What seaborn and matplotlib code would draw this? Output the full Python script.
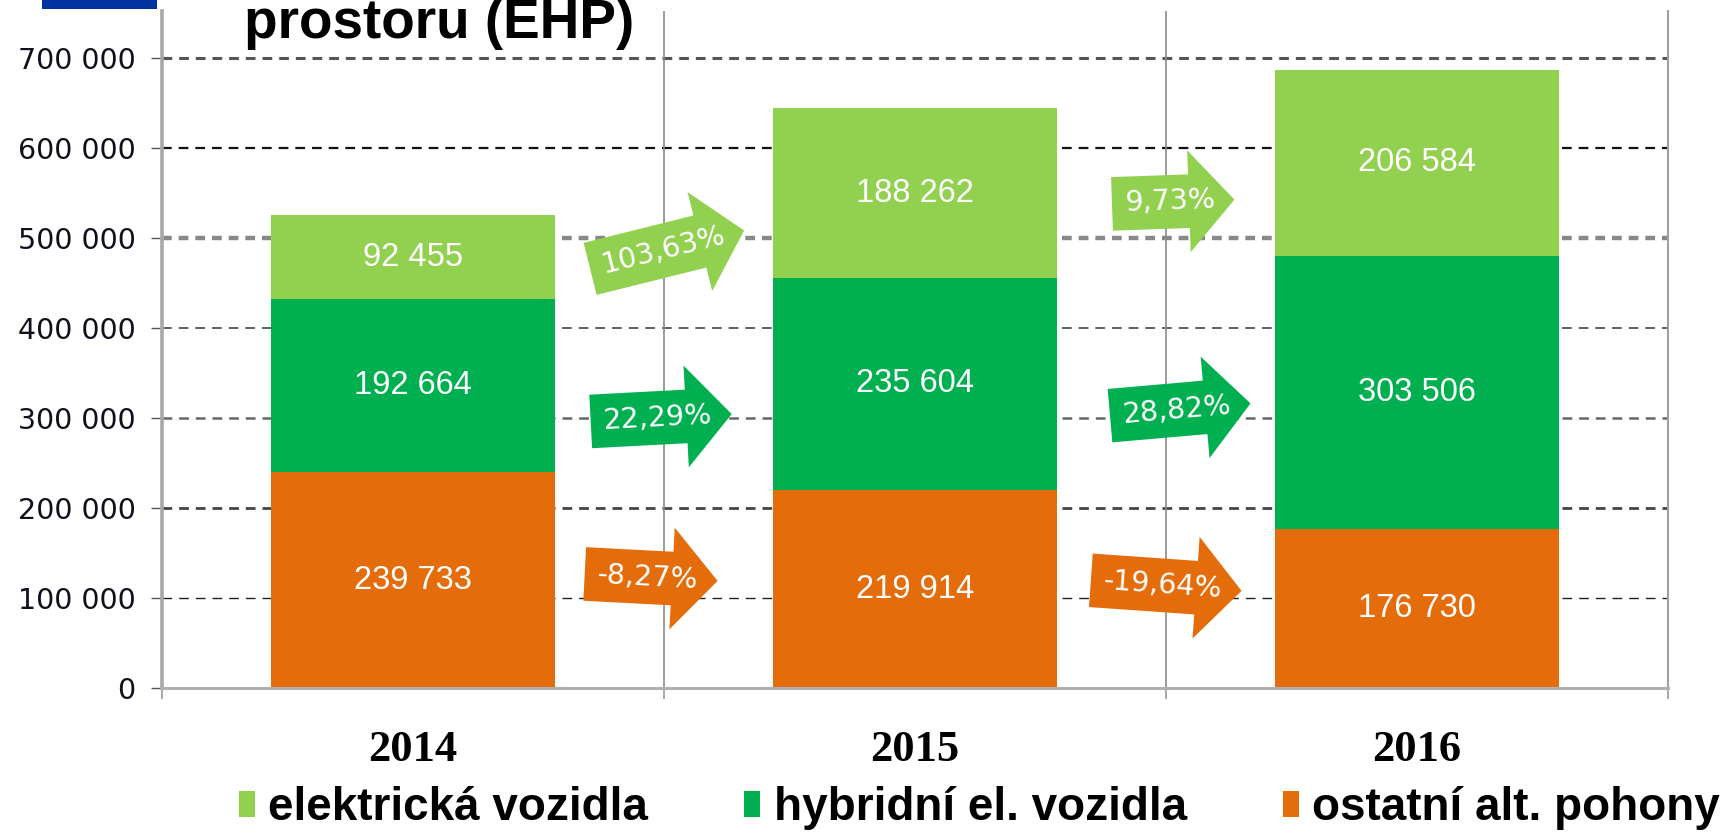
import numpy as np
import pandas as pd
import matplotlib
matplotlib.use("Agg")
import matplotlib.pyplot as plt
import seaborn as sns
from matplotlib.patches import Patch, Rectangle
from matplotlib.path import Path
from matplotlib.ticker import FuncFormatter, FixedLocator

# ---------------- data ----------------
years = ["2014", "2015", "2016"]
series_names = ["elektrická vozidla", "hybridní el. vozidla", "ostatní alt. pohony"]
ostatni = [239733, 219914, 176730]
hybridni = [192664, 235604, 303506]
elektricka = [92455, 188262, 206584]
growth_elektricka = ["103,63%", "9,73%"]
growth_hybridni = ["22,29%", "28,82%"]
growth_ostatni = ["-8,27%", "-19,64%"]
yticks = [0, 100000, 200000, 300000, 400000, 500000, 600000, 700000]
title_text = "prostoru (EHP)"

colors = {
    "elektrická vozidla": "#92D050",
    "hybridní el. vozidla": "#00B050",
    "ostatní alt. pohony": "#E46C0A",
}

# ---------------- style ----------------
sns.set_theme(style="white")
plt.rcParams["font.family"] = ["DejaVu Sans"]
plt.rcParams["lines.scale_dashes"] = False

W, H = 1721, 835
fig = plt.figure(figsize=(W / 100, H / 100), dpi=100)
ax = fig.add_axes([162 / W, 147 / H, (1668 - 162) / W, (824 - 147) / H])

df = pd.DataFrame({"year": years, "ostatni": ostatni,
                   "hybridni": hybridni, "elektricka": elektricka})
df["c1"] = df["ostatni"]
df["c2"] = df["c1"] + df["hybridni"]
df["c3"] = df["c2"] + df["elektricka"]

for col, name in [("c3", series_names[0]), ("c2", series_names[1]), ("c1", series_names[2])]:
    sns.barplot(data=df, x="year", y=col, color=colors[name], width=0.565,
                saturation=1, errorbar=None, ax=ax, zorder=2, edgecolor="none",
                linewidth=0)

ax.set_xlim(-0.5, 2.5)
ax.set_ylim(0, 752000)
ax.set_xlabel("")
ax.set_ylabel("")

# value labels
def fmt(v):
    return f"{int(v):,}".replace(",", " ")

for i in range(len(years)):
    segs = [(0, df["c1"][i]), (df["c1"][i], df["c2"][i]), (df["c2"][i], df["c3"][i])]
    vals = [ostatni[i], hybridni[i], elektricka[i]]
    for (b, t), v in zip(segs, vals):
        ax.text(i, (b + t) / 2, fmt(v), ha="center", va="center", color="white",
                fontsize=23.5, family="Liberation Sans", zorder=4)

# y axis
ax.yaxis.set_major_locator(FixedLocator(yticks))
ax.yaxis.set_major_formatter(FuncFormatter(lambda v, p: fmt(v)))
ax.tick_params(axis="y", length=8, width=1, color="#555555", pad=11,
               labelsize=20.5, labelcolor="#10101c", left=True)

# horizontal gridlines (dashed, varying weight)
grid_styles = {
    100000: ("#222222", 1.0),
    200000: ("#444444", 2.0),
    300000: ("#666666", 1.8),
    400000: ("#444444", 1.2),
    500000: ("#888888", 3.2),
    600000: ("#111111", 1.6),
    700000: ("#555555", 2.2),
}
for yv, (c, lw) in grid_styles.items():
    ln = ax.axhline(yv, color=c, lw=lw, zorder=1)
    ln.set_dashes([7, 5])

# x axis
ax.tick_params(axis="x", which="major", length=0, pad=30, labelsize=32)
for lab in ax.get_xticklabels():
    lab.set_family("Liberation Serif")
    lab.set_fontweight("bold")
    lab.set_color("black")
ax.set_xticks([-0.5, 0.5, 1.5, 2.5], minor=True)
ax.tick_params(axis="x", which="minor", length=8, width=1.2, color="#999999", bottom=True)
for xv in [0.5, 1.5]:
    ax.axvline(xv, color="#8a8a8a", lw=1.2, zorder=1)

ax.spines["top"].set_visible(False)
ax.spines["left"].set_color("#a8a8a8")
ax.spines["left"].set_linewidth(2.6)
ax.spines["right"].set_color("#a0a0a0")
ax.spines["right"].set_linewidth(1.5)
ax.spines["bottom"].set_color("#b0b0b0")
ax.spines["bottom"].set_linewidth(2.2)

# growth arrows
def arrow_box(x0, y0, width, height, mutation_size):
    pad = 0.45 * mutation_size
    x0 -= pad
    y0 -= pad
    width += 2 * pad
    height += 2 * pad
    h = height
    yc = y0 + h / 2
    x1 = x0 + width
    xb = x1 - 0.73 * h
    xt = xb + 0.85 * h
    Hh = 0.95 * h
    verts = [(x0, y0), (xb, y0), (xb, yc - Hh), (xt, yc), (xb, yc + Hh),
             (xb, y0 + h), (x0, y0 + h), (x0, y0)]
    return Path(verts, closed=True)

arrow_layout = [
    (series_names[0], growth_elektricka, [(0.50, 486000, 14), (1.508, 540000, 2)]),
    (series_names[1], growth_hybridni, [(0.488, 300000, 3), (1.522, 309000, 5)]),
    (series_names[2], growth_ostatni, [(0.468, 123000, -3), (1.494, 114000, -4)]),
]
for name, labels, places in arrow_layout:
    for lab, (x, y, rot) in zip(labels, places):
        ax.text(x, y, lab, ha="center", va="center", rotation=rot,
                rotation_mode="anchor", color="white", fontsize=20.5,
                zorder=5,
                bbox=dict(boxstyle=arrow_box, fc=colors[name], ec="none"))

# title fragment and blue bar
fig.text(244 / W, 1 - 38 / H, title_text, ha="left", va="baseline",
         fontsize=39.5, fontweight="bold", family="Liberation Sans", color="black")
fig.add_artist(Rectangle((42 / W, 1 - 9 / H), 115 / W, 9 / H,
                         transform=fig.transFigure, color="#0033A0", lw=0))

# legend
handles = [Patch(facecolor=colors[n], edgecolor="none", label=n) for n in series_names]
leg = fig.legend(handles=handles, loc="center left",
                 bbox_to_anchor=(239 / W, 1 - 808 / H), ncol=3, frameon=False,
                 borderpad=0, borderaxespad=0, handlelength=0.34, handleheight=0.5,
                 handletextpad=0.3, columnspacing=2.1,
                 prop={"family": "Liberation Sans", "weight": "bold", "size": 33})
for t in leg.get_texts():
    t.set_color("black")

fig.savefig("out.png", dpi=100)
